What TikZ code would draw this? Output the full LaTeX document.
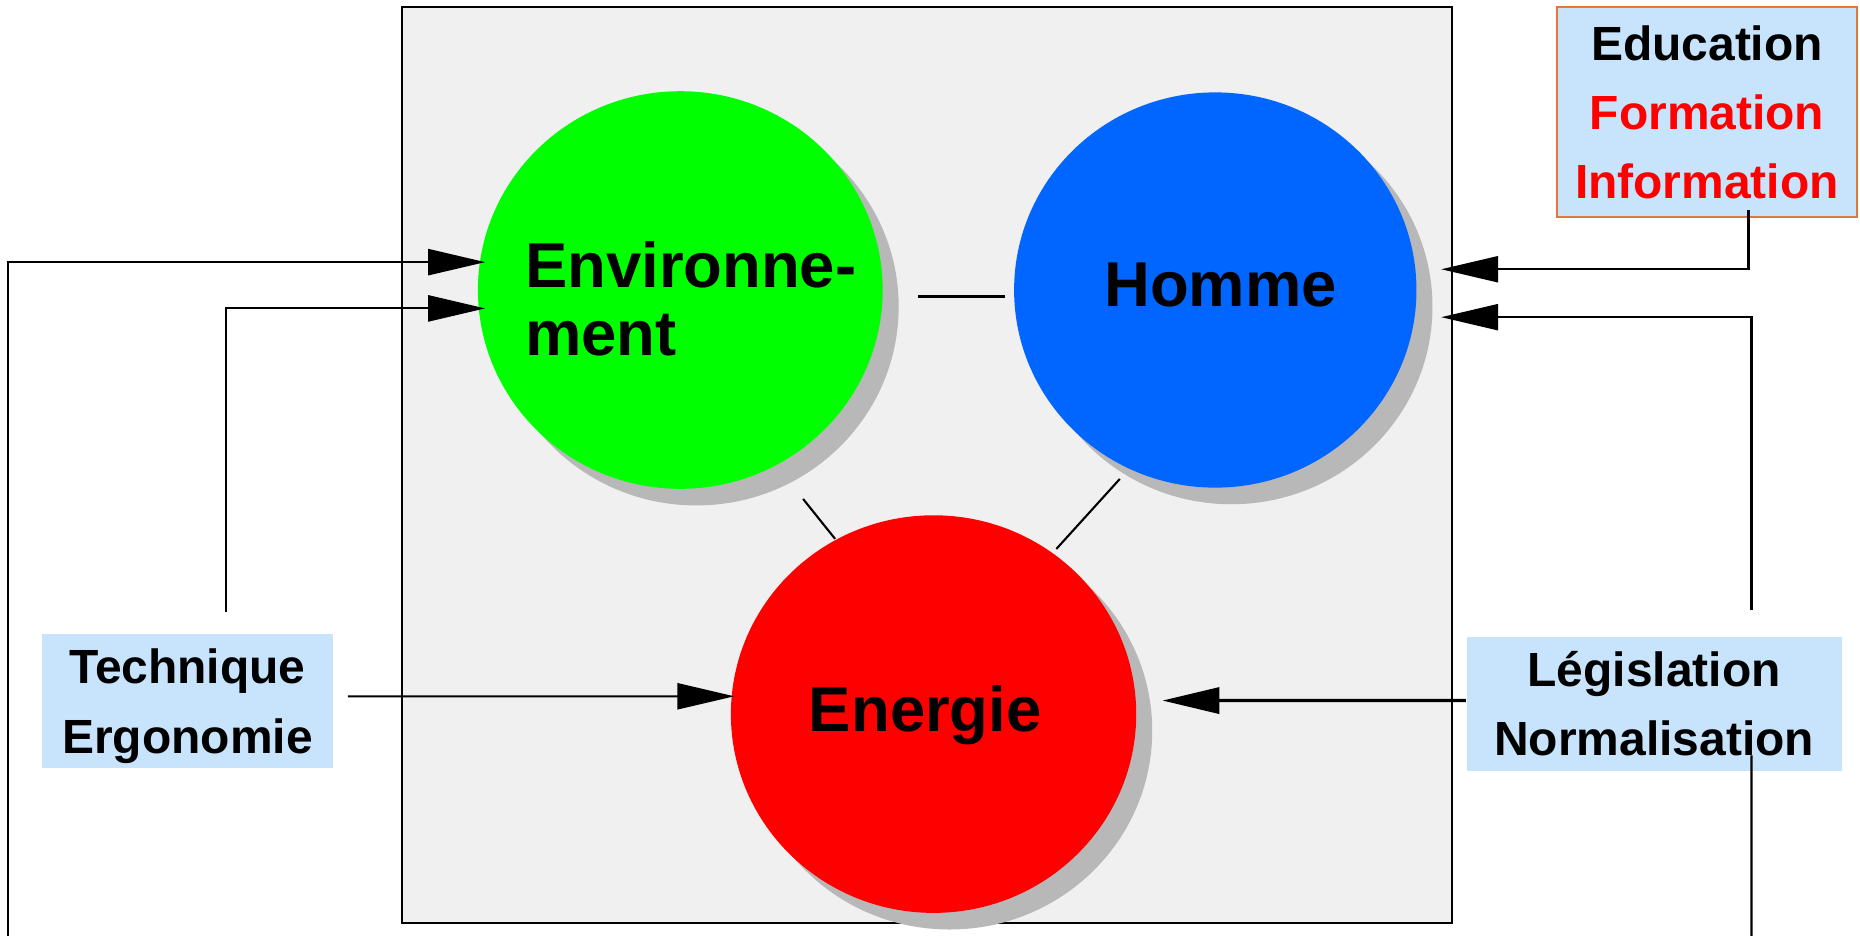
\documentclass[tikz,border=0pt]{standalone}
\usepackage{fontspec}
\setmainfont{Liberation Sans}
\usetikzlibrary{shapes.geometric,arrows.meta,shadows}

\definecolor{envgreen}{RGB}{0,255,0}
\definecolor{homblue}{RGB}{0,102,255}
\definecolor{nrgred}{RGB}{255,0,0}
\definecolor{shadegrey}{RGB}{184,184,184}
\definecolor{framegrey}{RGB}{240,240,240}
\definecolor{boxblue}{RGB}{200,228,252}
\definecolor{boxorange}{RGB}{224,120,56}

\tikzset{
  ball/.style={ellipse, minimum width=3.41cm, minimum height=3.35cm, inner sep=0pt,
    drop shadow={shadow xshift=0.135cm, shadow yshift=-0.14cm, fill=shadegrey, opacity=1}},
  bigtxt/.style={font=\fontsize{15.2}{16.5}\selectfont\bfseries, inner sep=0pt},
  infobox/.style={fill=boxblue, align=center, inner sep=0pt, text depth=0pt,
    font=\fontsize{11.5}{16.6}\selectfont\bfseries},
  arr/.style={-{Triangle[length=0.48cm,width=0.22cm]}, line width=0.5pt},
}

\begin{document}
\begin{tikzpicture}[x=0.01cm, y=-0.01cm]
        \useasboundingbox (0,0) rectangle (1568,789);

        % draw frame
        \draw[fill=framegrey, line width=0.6pt] (339,6) rectangle (1224,778);

        % draw circles
        \node[ball, fill=envgreen] (env) at (573.5,244.5) {};
        \node[ball, fill=homblue, minimum width=3.39cm, minimum height=3.33cm] (hom) at (1024.5,244.5) {};
        \node[ball, fill=nrgred, minimum width=3.415cm] (nrg) at (787,602) {};

        % draw labels
        \node[bigtxt, align=left, anchor=west] (envtxt) at (442,252) {Environne-\\ment};
        \node[bigtxt, anchor=base] (homtxt) at (1029,258) {Homme};
        \node[bigtxt, anchor=base] (nrgtxt) at (780,616.5) {Energie};

        % draw links
        \coordinate (envA) at (774,250);
        \coordinate (homA) at (847.5,250);
        \coordinate (envB) at (677,420.6);
        \coordinate (nrgB) at (704,454.3);
        \coordinate (homC) at (944,403.8);
        \coordinate (nrgC) at (890.5,462.8);
        \draw[line width=0.5pt] (envA) -- (homA);
        \draw[line width=0.5pt] (envB) -- (nrgB);
        \draw[line width=0.5pt] (homC) -- (nrgC);

        % draw boxes
        \node[infobox, minimum width=2.45cm, minimum height=1.13cm] (tech) at (158,591) {Technique\\Ergonomie};
        \node[infobox, draw=boxorange, line width=0.6pt, minimum width=2.53cm, minimum height=1.77cm] (edu) at (1439,94.6)
          {Education\\\textcolor{nrgred}{Formation}\\\textcolor{nrgred}{Information}};
        \node[infobox, minimum width=3.16cm, minimum height=1.125cm] (legis) at (1394.5,593.3) {Législation\\Normalisation};

        % draw arrows
        \coordinate (lowL) at (7,789);
        \coordinate (lowR) at (1476.5,789);
        \coordinate (envIn1) at (409,221);
        \coordinate (envIn2) at (409,260);
        \coordinate (homIn1) at (1215,227);
        \coordinate (homIn2) at (1215,267.4);
        \coordinate (nrgIn1) at (619,587);
        \coordinate (nrgIn2) at (980,590.6);
        \draw[arr] (lowL) |- (envIn1);
        \draw[arr] ([xshift=0.325cm,yshift=0.175cm]tech.north) |- (envIn2);
        \draw[arr] ([xshift=0.12cm,yshift=0.04cm]tech.east) -- (nrgIn1);
        \draw[arr] ([xshift=0.35cm,yshift=0.07cm]edu.south) |- (homIn1);
        \draw[arr] ([xshift=0.82cm,yshift=0.22cm]legis.north) |- (homIn2);
        \draw[arr, line width=0.8pt] ([yshift=0.027cm]legis.west) -- (nrgIn2);
        \draw[line width=0.5pt] ([xshift=0.82cm,yshift=0.135cm]legis.south) -- (lowR);
\end{tikzpicture}
\end{document}
